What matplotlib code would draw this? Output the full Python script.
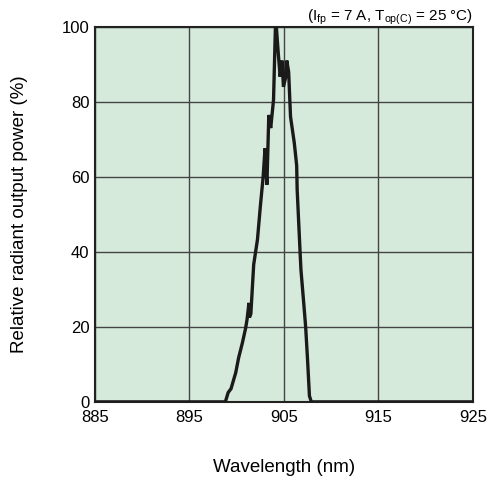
import matplotlib
matplotlib.use('Agg')
import matplotlib.pyplot as plt

plt.rcParams['font.family'] = ['Liberation Sans', 'DejaVu Sans']

# spectrum (nm, %)
wavelength = [885.0, 898.8, 899.1, 899.4, 899.9, 900.2, 900.6, 900.95, 901.1,
              901.3, 901.35, 901.5, 901.8, 902.2, 902.5, 902.8, 903.0, 903.1,
              903.2, 903.4, 903.6, 903.9, 904.1, 904.2, 904.4, 904.6, 904.8,
              904.95, 905.2, 905.3, 905.5, 905.7, 906.1, 906.35, 906.4,
              906.7, 906.8, 907.15, 907.3, 907.5, 907.7, 907.9, 925.0]
power = [0.0, 0.0, 2.5, 3.5, 7.8, 11.7, 15.7, 19.7, 22.0,
         26.4, 22.5, 23.5, 36.6, 43.3, 52.0, 60.0, 67.6, 62.0,
         57.9, 76.5, 73.0, 80.5, 100.0, 100.0, 93.0, 86.7, 91.0,
         84.0, 86.7, 91.0, 88.0, 76.0, 69.0, 63.0, 56.7,
         40.5, 35.3, 24.7, 20.0, 11.3, 1.6, 0.0, 0.0]

x_ticks = [885, 895, 905, 915, 925]
y_ticks = [0, 20, 40, 60, 80, 100]

fig = plt.figure(figsize=(4.87, 4.79), dpi=100)
ax = fig.add_axes([0.195, 0.161, 0.776, 0.783])
ax.set_facecolor('#d6eadb')

ax.plot(wavelength, power, color='#1a1a1a', linewidth=2.4, solid_joinstyle='miter', zorder=3)

ax.set_xlim(885, 925)
ax.set_ylim(0, 100)
ax.set_xticks(x_ticks)
ax.set_yticks(y_ticks)
ax.tick_params(length=0, labelsize=12)
ax.tick_params(axis='x', pad=6)
ax.tick_params(axis='y', pad=4)
ax.grid(True, color='#444444', linewidth=1.0)
for s in ax.spines.values():
    s.set_color('#222222')
    s.set_linewidth(1.5)

ax.set_xlabel('Wavelength (nm)', fontsize=13.5, labelpad=24)
ax.set_ylabel('Relative radiant output power (%)', fontsize=13.5, labelpad=24)
ax.set_title(r'(I$_{\mathregular{fp}}$ = 7 A, T$_{\mathregular{op(C)}}$ = 25 °C)',
             loc='right', fontsize=11, pad=2)

fig.savefig('out.png', dpi=100)
